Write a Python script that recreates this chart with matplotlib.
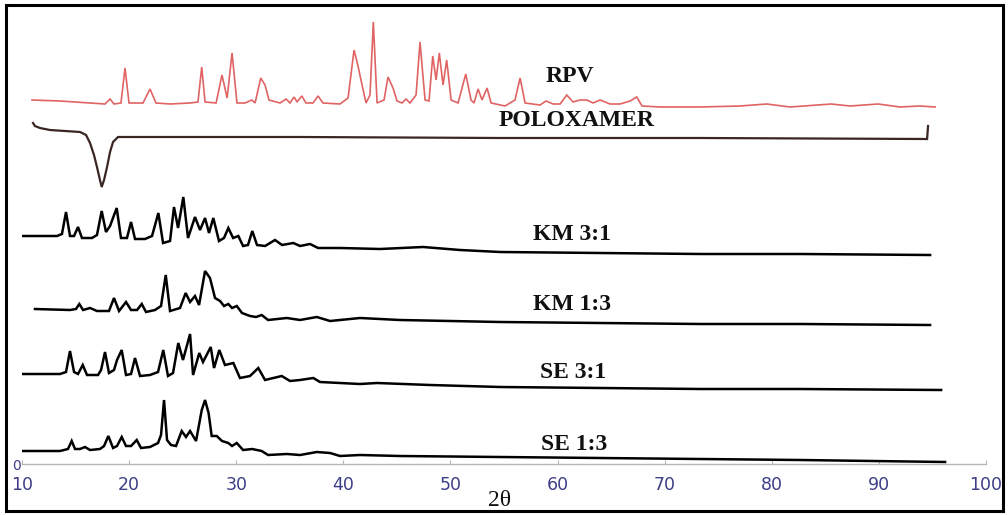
import matplotlib
matplotlib.use("Agg")
import matplotlib.pyplot as plt
from matplotlib.patches import Rectangle

# ---------------- data (2-theta in degrees, intensity in arbitrary units) ----------------
rpv_2theta = [10.93, 13.55, 16.35, 17.75, 18.22, 18.59, 19.24, 19.62, 19.99, 21.30, 21.95, 22.51,
              23.82, 25.69, 26.43, 26.78, 27.09, 28.12, 28.67, 29.15, 29.61, 30.07, 30.82, 31.45,
              31.76, 32.29, 32.69, 33.06, 34.09, 34.65, 35.02, 35.40, 35.68, 36.12, 36.52, 37.17,
              37.64, 38.10, 39.69, 40.44, 41.00, 41.37, 41.75, 42.12, 42.49, 42.80, 43.15, 43.80,
              44.17, 44.64, 45.01, 45.48, 45.85, 46.22, 46.79, 47.16, 47.63, 48.00, 48.35, 48.66,
              48.96, 49.31, 49.65, 50.06, 50.71, 51.43, 51.92, 52.20, 52.58, 52.95, 53.42, 53.79,
              55.10, 56.03, 56.50, 56.97, 58.37, 58.93, 59.59, 60.24, 60.86, 61.45, 62.10, 62.73,
              63.32, 63.97, 64.90, 65.84, 66.77, 67.39, 67.89, 69.57, 73.31, 77.04, 79.53, 81.71,
              85.54, 87.31, 89.93, 91.98, 93.85, 95.25]
rpv_int = [2, 1, -1, -2, 3, -2, -1, 34, -1, -1, 13, -1,
           -2, -1, 0, 35, 0, -1, 27, 4, 49, -1, -1, 2,
           -1, 24, 17, 2, -1, 3, -1, 5, 0, 6, -1, -1,
           6, -1, -2, 4, 52, 36, 17, -1, 7, 80, -1, 2,
           25, 14, 1, -1, 3, -1, 7, 60, 2, 1, 46, 22,
           49, 17, 42, 2, -1, 28, 2, -1, 13, 2, 14, -1,
           -4, 2, 24, -1, -3, 1, -2, -2, 7, 0, 2, 2,
           -1, 2, -2, -2, 1, 5, -4, -5, -5, -4, -2, -5,
           -2, -4, -2, -5, -4, -5]

polox_2theta = [11.03, 11.21, 11.68, 12.61, 14.01, 15.42, 15.98, 16.35, 16.72, 17.00, 17.28, 17.44,
                17.66, 17.94, 18.22, 18.50, 18.96, 20.08, 35.96, 54.63, 73.31, 94.50, 94.59]
polox_int = [14, 11, 9, 7, 6, 5, 2, -6, -18, -30, -43, -50,
             -43, -30, -15, -5, 0, 0, 0, -1, -1, -2, 11]

km31_2theta = [10.09, 12.61, 13.27, 13.73, 14.11, 14.48, 14.86, 15.23, 15.60, 16.54, 17.00, 17.44,
               17.84, 18.22, 18.84, 19.24, 19.80, 20.18, 20.55, 21.48, 22.14, 22.73, 23.17, 23.82,
               24.19, 24.57, 25.06, 25.50, 26.15, 26.62, 27.09, 27.46, 27.86, 28.39, 28.86, 29.26,
               29.71, 30.20, 30.64, 31.10, 31.50, 31.94, 32.69, 33.62, 34.28, 35.33, 35.96, 36.89,
               37.64, 39.69, 43.43, 47.44, 50.90, 54.63, 63.97, 73.31, 82.64, 94.78]
km31_int = [0, 0, 0, 2, 24, 0, 0, 9, -2, -2, 1, 25,
            4, 10, 28, -2, -2, 14, -3, -3, 0, 23, -7, -5,
            29, 8, 39, -2, 19, 6, 18, 3, 18, -5, -2, 8,
            -2, 0, -10, -9, 5, -9, -10, -4, -9, -7, -10, -8,
            -12, -12, -13, -11, -14, -16, -17, -18, -18, -19]

km13_2theta = [11.21, 14.48, 15.04, 15.35, 15.70, 16.35, 17.00, 18.12, 18.59, 19.06, 19.71, 20.18,
               20.74, 21.18, 21.58, 22.42, 22.98, 23.42, 23.82, 24.75, 25.28, 25.69, 26.15, 26.53,
               27.09, 27.55, 28.02, 28.49, 28.86, 29.26, 29.61, 30.05, 30.54, 31.29, 31.85, 32.38,
               32.97, 34.72, 35.96, 37.52, 38.76, 41.56, 45.29, 54.63, 63.97, 73.31, 82.64, 94.78]
km13_int = [0, -1, 0, 5, -1, 1, -2, -2, 11, -2, 7, -1,
            -1, 5, -3, -1, 3, 34, -2, 1, 16, 7, 13, 4,
            38, 31, 11, 8, 3, 5, 1, 3, -4, -7, -8, -6,
            -11, -9, -11, -8, -12, -9, -11, -13, -14, -15, -15, -16]

se31_2theta = [10.09, 13.55, 14.11, 14.48, 14.86, 15.23, 15.67, 16.07, 17.10, 17.38, 17.75, 18.12,
               18.59, 18.87, 19.31, 19.71, 20.18, 20.55, 21.02, 21.95, 22.70, 23.19, 23.63, 24.10,
               24.59, 25.03, 25.69, 25.97, 26.55, 26.90, 27.62, 27.93, 28.42, 28.95, 29.73, 30.35,
               31.29, 32.06, 32.69, 34.25, 35.02, 35.96, 37.20, 37.82, 41.56, 43.15, 48.10, 54.63,
               63.97, 73.31, 82.64, 95.81]
se31_int = [0, 0, 2, 23, 2, 0, 9, -1, -1, 4, 22, 1,
            4, 14, 24, -1, 0, 16, -2, -1, 2, 24, -2, 1,
            31, 14, 40, -1, 21, 12, 27, 6, 24, 9, 11, -4,
            -2, 6, -6, -2, -7, -6, -4, -8, -10, -9, -11, -13,
            -14, -15, -15, -16]

se13_2theta = [10.09, 13.55, 14.29, 14.64, 14.95, 15.42, 15.88, 16.35, 17.28, 17.66, 18.06, 18.50,
               18.87, 19.31, 19.71, 20.18, 20.71, 21.11, 21.95, 22.70, 22.98, 23.26, 23.54, 23.91,
               24.38, 24.91, 25.31, 25.69, 26.25, 26.78, 27.09, 27.42, 27.71, 28.18, 28.67, 29.26,
               29.61, 30.05, 30.64, 31.48, 32.38, 32.97, 34.72, 35.96, 37.52, 38.76, 39.69, 41.56,
               45.29, 54.63, 63.97, 73.31, 82.64, 96.18]
se13_int = [0, 0, 2, 10, 2, 2, 4, 1, 2, 5, 15, 3,
            5, 14, 5, 5, 11, 3, 4, 8, 16, 51, 11, 6,
            5, 20, 14, 20, 10, 41, 51, 38, 15, 15, 10, 8,
            5, 8, 1, 2, 0, -4, -3, -4, -1, -2, -5, -4,
            -5, -6, -7, -8, -9, -11]

sample_names = ["RPV", "POLOXAMER", "KM 3:1", "KM 1:3", "SE 3:1", "SE 1:3"]
x_ticks = [10, 20, 30, 40, 50, 60, 70, 80, 90, 100]
x_label = "2θ"

# ---------------- layout ----------------
W, H = 1008, 515
fig = plt.figure(figsize=(W / 100, H / 100), dpi=100)
fig.patch.set_facecolor("white")

ax_left, ax_right, ax_bottom, ax_top = 22, 986, 464, 10   # pixel positions
ax = fig.add_axes([ax_left / W, 1 - ax_bottom / H, (ax_right - ax_left) / W, (ax_bottom - ax_top) / H])
ax.set_xlim(10, 100)
ax.set_ylim(0, ax_bottom - ax_top)

offsets = [362, 327, 228, 155, 90, 13]
series = [(rpv_2theta, rpv_int), (polox_2theta, polox_int), (km31_2theta, km31_int),
          (km13_2theta, km13_int), (se31_2theta, se31_int), (se13_2theta, se13_int)]
colors = ["#e06464", "#3a2623", "black", "black", "black", "black"]
widths = [1.2, 1.6, 1.8, 1.8, 1.8, 1.8]
for (tt, ii), off, c, lw in zip(series, offsets, colors, widths):
    ax.plot(tt, [v + off for v in ii], color=c, lw=lw, solid_joinstyle="miter")

# sample labels (pixel centre positions converted to data)
label_px = [(570, 77), (577, 120), (572, 235), (572, 304), (573, 373), (574, 445)]
for name, (px, py) in zip(sample_names, label_px):
    ax.text(10 + (px - ax_left) / ((ax_right - ax_left) / 90), ax_bottom - py, name,
            ha="center", va="center", fontsize=17, fontweight="bold",
            family="Liberation Serif", color="#111111")

for s in ["top", "right", "left"]:
    ax.spines[s].set_visible(False)
ax.spines["bottom"].set_color("#b5b5b5")
ax.spines["bottom"].set_linewidth(1.0)
ax.set_xticks(x_ticks)
ax.set_xticklabels([str(t) for t in x_ticks])
ax.tick_params(axis="x", direction="in", length=3, color="#b5b5b5", pad=9,
               labelsize=12.5, labelcolor="#3e3e88")
ax.set_yticks([0])
ax.set_yticklabels(["0"])
ax.tick_params(axis="y", length=0, pad=1, labelsize=10, labelcolor="#3e3e88")
for lab in ax.get_xticklabels() + ax.get_yticklabels():
    lab.set_family("DejaVu Sans")

fig.text(500 / W, 1 - 500 / H, x_label, ha="center", va="center", fontsize=17,
         family="Liberation Serif", color="#111111")

# frame around the whole picture
fig.patches.append(Rectangle((6 / W, 4 / H), (1003 - 6) / W, (510 - 4) / H,
                             transform=fig.transFigure, fill=False, edgecolor="black",
                             linewidth=2.2, zorder=10))

fig.savefig("out.png", dpi=100, facecolor="white")
